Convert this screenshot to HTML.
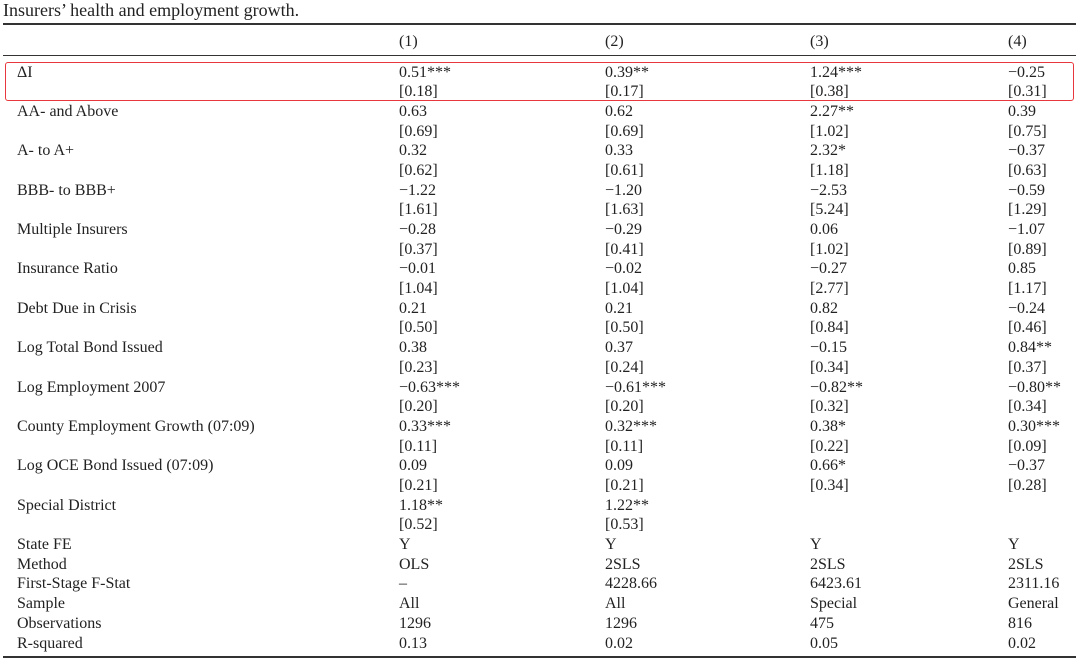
<!DOCTYPE html>
<html><head><meta charset="utf-8"><style>
body{margin:0;width:1080px;height:665px;background:#fff;position:relative;overflow:hidden;font-family:"Liberation Serif","DejaVu Serif",serif;color:#222;font-size:16px}
.t{position:absolute;white-space:nowrap;line-height:20px}
.rule{position:absolute;left:3px;width:1073px;background:#333}
</style></head><body>
<div class="t" style="left:3px;top:0px;font-size:18px">Insurers’ health and employment growth.</div>
<div class="rule" style="top:23px;height:1.5px"></div>
<div class="rule" style="top:55px;height:1px"></div>
<div class="rule" style="top:656px;height:1.5px"></div>
<div style="position:absolute;left:5px;top:62px;width:1067px;height:37px;border:1.3px solid #e8383d;border-radius:3px"></div>
<div id="tbl"></div>
<script>
const colX=[17,399,605,810,1008];
const headers=["(1)","(2)","(3)","(4)"];
const rows=[
["ΔI",["0.51***","0.39**","1.24***","−0.25"],["[0.18]","[0.17]","[0.38]","[0.31]"]],
["AA- and Above",["0.63","0.62","2.27**","0.39"],["[0.69]","[0.69]","[1.02]","[0.75]"]],
["A- to A+",["0.32","0.33","2.32*","−0.37"],["[0.62]","[0.61]","[1.18]","[0.63]"]],
["BBB- to BBB+",["−1.22","−1.20","−2.53","−0.59"],["[1.61]","[1.63]","[5.24]","[1.29]"]],
["Multiple Insurers",["−0.28","−0.29","0.06","−1.07"],["[0.37]","[0.41]","[1.02]","[0.89]"]],
["Insurance Ratio",["−0.01","−0.02","−0.27","0.85"],["[1.04]","[1.04]","[2.77]","[1.17]"]],
["Debt Due in Crisis",["0.21","0.21","0.82","−0.24"],["[0.50]","[0.50]","[0.84]","[0.46]"]],
["Log Total Bond Issued",["0.38","0.37","−0.15","0.84**"],["[0.23]","[0.24]","[0.34]","[0.37]"]],
["Log Employment 2007",["−0.63***","−0.61***","−0.82**","−0.80**"],["[0.20]","[0.20]","[0.32]","[0.34]"]],
["County Employment Growth (07:09)",["0.33***","0.32***","0.38*","0.30***"],["[0.11]","[0.11]","[0.22]","[0.09]"]],
["Log OCE Bond Issued (07:09)",["0.09","0.09","0.66*","−0.37"],["[0.21]","[0.21]","[0.34]","[0.28]"]],
["Special District",["1.18**","1.22**","",""],["[0.52]","[0.53]","",""]]
];
const footer=[
["State FE",["Y","Y","Y","Y"]],
["Method",["OLS","2SLS","2SLS","2SLS"]],
["First-Stage F-Stat",["–","4228.66","6423.61","2311.16"]],
["Sample",["All","All","Special","General"]],
["Observations",["1296","1296","475","816"]],
["R-squared",["0.13","0.02","0.05","0.02"]]
];
const tbl=document.getElementById('tbl');
const rowH=19.69, y0=72.5;
function cell(txt,x,yc,name){
  const d=document.createElement('div');d.className='t';
  
  
  d.style.left=x+'px';d.style.top=(yc-10)+'px';d.textContent=txt;tbl.appendChild(d);
}
headers.forEach((h,i)=>cell(h,colX[i+1],41.5,'column-header'));
let r=0;
rows.forEach(row=>{
  const y1=y0+r*rowH, y2=y0+(r+1)*rowH;
  cell(row[0],colX[0],y1,'row-label');
  row[1].forEach((v,i)=>{if(v)cell(v,colX[i+1],y1,'coefficient');});
  row[2].forEach((v,i)=>{if(v)cell(v,colX[i+1],y2,'standard-error');});
  r+=2;
});
footer.forEach(row=>{
  const y=y0+r*rowH;
  cell(row[0],colX[0],y,'row-label');
  row[1].forEach((v,i)=>cell(v,colX[i+1],y,'stat-value'));
  r++;
});
</script>
</body></html>
